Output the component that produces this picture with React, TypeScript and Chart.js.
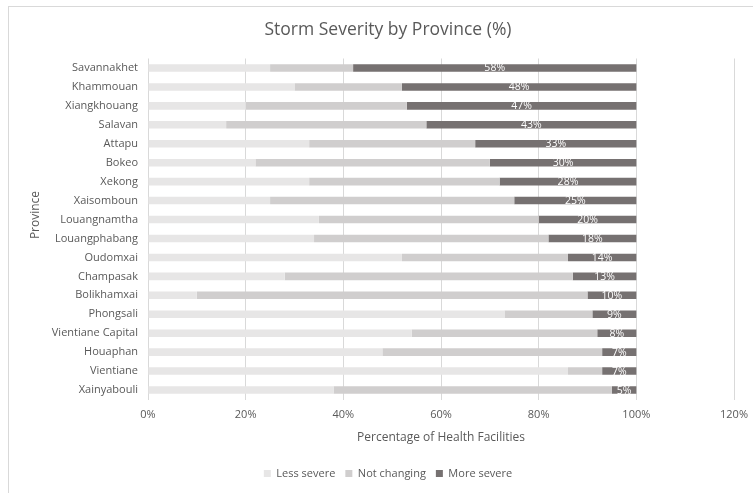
import React, { useEffect, useRef } from "react";
import { Chart, registerables } from "chart.js";

Chart.register(...registerables);

const categories = [
  "Savannakhet", "Khammouan", "Xiangkhouang", "Salavan", "Attapu", "Bokeo",
  "Xekong", "Xaisomboun", "Louangnamtha", "Louangphabang", "Oudomxai",
  "Champasak", "Bolikhamxai", "Phongsali", "Vientiane Capital", "Houaphan",
  "Vientiane", "Xainyabouli",
];
const lessSevere = [25, 30, 20, 16, 33, 22, 33, 25, 35, 34, 52, 28, 10, 73, 54, 48, 86, 38];
const notChanging = [17, 22, 33, 41, 34, 48, 39, 50, 45, 48, 34, 59, 80, 18, 38, 45, 7, 57];
const moreSevere = [58, 48, 47, 43, 33, 30, 28, 25, 20, 18, 14, 13, 10, 9, 8, 7, 7, 5];
const seriesNames = ["Less severe", "Not changing", "More severe"];
const xTicks = [0, 20, 40, 60, 80, 100, 120];
const yTitle = "Province";

const FONT = "'Open Sans', sans-serif";
const TEXT = "#595959";

const framePlugin = {
  id: "frame",
  beforeDraw(chart: any) {
    const { ctx, width, height } = chart;
    ctx.save();
    ctx.fillStyle = "#ffffff";
    ctx.fillRect(0, 0, width, height);
    ctx.strokeStyle = "#d9d9d9";
    ctx.lineWidth = 1;
    ctx.strokeRect(8.5, 6.5, width + 10, height + 10);
    ctx.restore();
  },
};

const labelPlugin = {
  id: "barLabels",
  afterDatasetsDraw(chart: any) {
    const { ctx, chartArea } = chart;
    const meta = chart.getDatasetMeta(2);
    ctx.save();
    ctx.fillStyle = "#ffffff";
    ctx.font = `10.5px ${FONT}`;
    ctx.textAlign = "center";
    ctx.textBaseline = "middle";
    meta.data.forEach((bar: any, i: number) => {
      const { x, base, y } = bar.getProps(["x", "base", "y"], true);
      ctx.fillText(moreSevere[i] + "%", (x + base) / 2, y + 0.5);
    });
    // y axis title
    ctx.fillStyle = TEXT;
    ctx.font = `12px ${FONT}`;
    ctx.translate(36, (chartArea.top + chartArea.bottom) / 2 - 14);
    ctx.rotate(-Math.PI / 2);
    ctx.fillText(yTitle, 0, 0);
    ctx.restore();
  },
};

export default function App() {
  const ref = useRef<HTMLCanvasElement | null>(null);
  useEffect(() => {
    document.body.style.margin = "0";
    const chart = new Chart(ref.current as HTMLCanvasElement, {
      type: "bar",
      data: {
        labels: categories,
        datasets: [
          { label: seriesNames[0], data: lessSevere, backgroundColor: "#e7e6e6" },
          { label: seriesNames[1], data: notChanging, backgroundColor: "#d0cece" },
          { label: seriesNames[2], data: moreSevere, backgroundColor: "#767171" },
        ],
      },
      options: {
        indexAxis: "y",
        animation: false,
        responsive: false,
        maintainAspectRatio: false,
        datasets: { bar: { categoryPercentage: 1, barPercentage: 0.4 } },
        layout: { padding: { left: 42, right: 19, top: 0, bottom: 4 } },
        plugins: {
          title: {
            display: true,
            text: "Storm Severity by Province (%)",
            color: TEXT,
            font: { family: FONT, size: 17.5, weight: "normal" },
            padding: { top: 19.5, bottom: 18 },
          },
          legend: {
            position: "bottom",
            labels: {
              color: TEXT,
              font: { family: FONT, size: 11 },
              boxWidth: 7,
              boxHeight: 7,
              padding: 10,
            },
          },
          tooltip: { enabled: false },
        },
        scales: {
          x: {
            stacked: true,
            min: 0,
            max: 120,
            afterBuildTicks(scale: any) {
              scale.ticks = xTicks.map((v) => ({ value: v }));
            },
            afterFit(scale: any) {
              scale.height = 58.5;
              scale.paddingRight = 0;
              scale.paddingLeft = 0;
            },
            ticks: {
              color: TEXT,
              font: { family: FONT, size: 11 },
              padding: 9,
              callback: (v: any) => v + "%",
            },
            grid: { color: "#d9d9d9", drawTicks: false },
            border: { display: false },
            title: {
              display: true,
              text: "Percentage of Health Facilities",
              color: TEXT,
              font: { family: FONT, size: 12 },
              padding: { top: 4, bottom: 13 },
            },
          },
          y: {
            stacked: true,
            afterFit(scale: any) {
              scale.width = 106;
            },
            ticks: {
              color: TEXT,
              font: { family: FONT, size: 11 },
              padding: 10,
            },
            grid: { display: false, drawTicks: false },
            border: { display: false },
          },
        },
      },
      plugins: [framePlugin, labelPlugin],
    } as any);
    return () => chart.destroy();
  }, []);
  return (
    <div style={{ width: 753, height: 493 }}>
      <canvas ref={ref} width={753} height={493} style={{ display: "block" }} />
    </div>
  );
}
